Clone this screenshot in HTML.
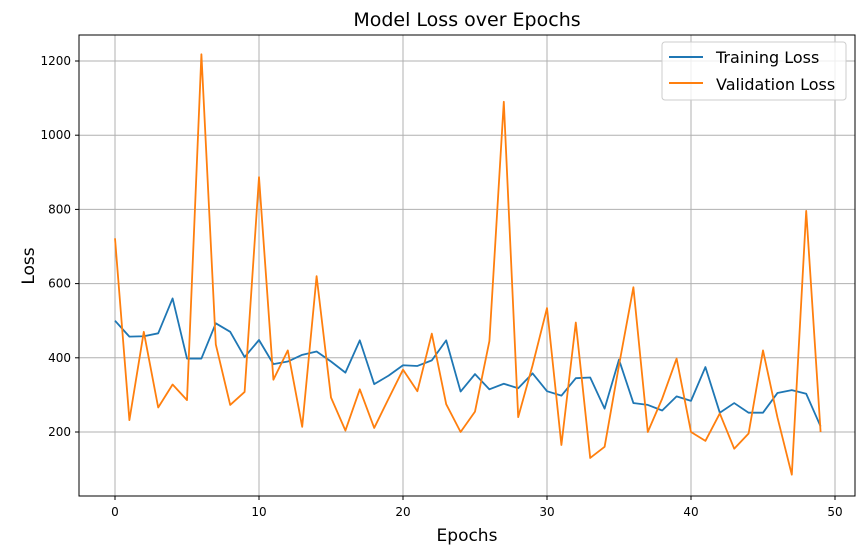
<!DOCTYPE html>
<html><head><meta charset="utf-8"><style>
body{margin:0;background:#fff;font-family:"Liberation Sans","DejaVu Sans",sans-serif;}
svg text{font-family:"DejaVu Sans","Liberation Sans",sans-serif;}
</style></head><body>
<svg id="chart" width="864" height="554" xmlns="http://www.w3.org/2000/svg">
<rect width="864" height="554" fill="#fff"/>
<g id="grid"></g>
<g id="series"></g>
<rect x="79" y="35" width="776" height="461" fill="none" stroke="#000" stroke-width="1"/>
<g id="ticks"></g>
<text x="467" y="26" font-size="19" text-anchor="middle">Model Loss over Epochs</text>
<text x="467" y="541" font-size="17" text-anchor="middle">Epochs</text>
<text x="0" y="0" font-size="17" text-anchor="middle" transform="translate(34,266) rotate(-90)">Loss</text>
<g>
<rect x="662" y="42" width="184" height="58" rx="3" fill="#fff" fill-opacity="0.8" stroke="#ccc"/>
<line x1="669" y1="57" x2="703" y2="57" stroke="#1f77b4" stroke-width="2"/>
<text x="716" y="63" font-size="16">Training Loss</text>
<line x1="669" y1="83" x2="703" y2="83" stroke="#ff7f0e" stroke-width="2"/>
<text x="716" y="90" font-size="16">Validation Loss</text>
</g>
</svg>
<script>
const trainingLoss=[500,457,458,466,560,398,398,493,470,402,448,383,390,408,417,390,360,447,329,352,380,378,393,447,309,356,315,330,318,358,310,298,345,347,263,395,278,273,258,296,284,375,252,278,252,252,305,313,303,215];
const validationLoss=[722,232,470,266,328,286,1218,436,273,308,887,341,420,214,620,293,204,315,211,290,368,310,465,275,200,255,445,1090,240,380,534,165,495,130,160,380,590,200,290,398,200,176,250,155,196,420,240,85,796,200];
const xTicks=[0,10,20,30,40,50];
const yTicks=[200,400,600,800,1000,1200];
const NS="http://www.w3.org/2000/svg";
function xs(v){return 115+v*14.4;}
function ys(v){return 432-(v-200)*0.371;}
const grid=document.getElementById('grid'),ticks=document.getElementById('ticks'),ser=document.getElementById('series');
function mk(tag,attrs,parent){const e=document.createElementNS(NS,tag);for(const k in attrs)e.setAttribute(k,attrs[k]);parent.appendChild(e);return e;}
xTicks.forEach(t=>{
 const g=mk('line',{x1:xs(t),x2:xs(t),y1:35,y2:496,stroke:'#b0b0b0','stroke-width':1},grid);
 
 
 mk('line',{x1:xs(t),x2:xs(t),y1:496,y2:500,stroke:'#000'},ticks);
 const tx=mk('text',{x:xs(t),y:516,'font-size':12,'text-anchor':'middle'},ticks);tx.textContent=t;
 
 
});
yTicks.forEach(t=>{
 const g=mk('line',{x1:79,x2:855,y1:ys(t),y2:ys(t),stroke:'#b0b0b0','stroke-width':1},grid);
 
 
 mk('line',{x1:75,x2:79,y1:ys(t),y2:ys(t),stroke:'#000'},ticks);
 const tx=mk('text',{x:71,y:ys(t)+4,'font-size':12,'text-anchor':'end'},ticks);tx.textContent=t;
 
 
});
function line(data,color,name){
 const p=mk('polyline',{points:data.map((v,i)=>xs(i)+','+ys(v)).join(' '),fill:'none',stroke:color,'stroke-width':1.8,'stroke-linejoin':'round'},ser);
 
 
}
line(trainingLoss,'#1f77b4','training-loss-line');
line(validationLoss,'#ff7f0e','validation-loss-line');
</script>
</body></html>
